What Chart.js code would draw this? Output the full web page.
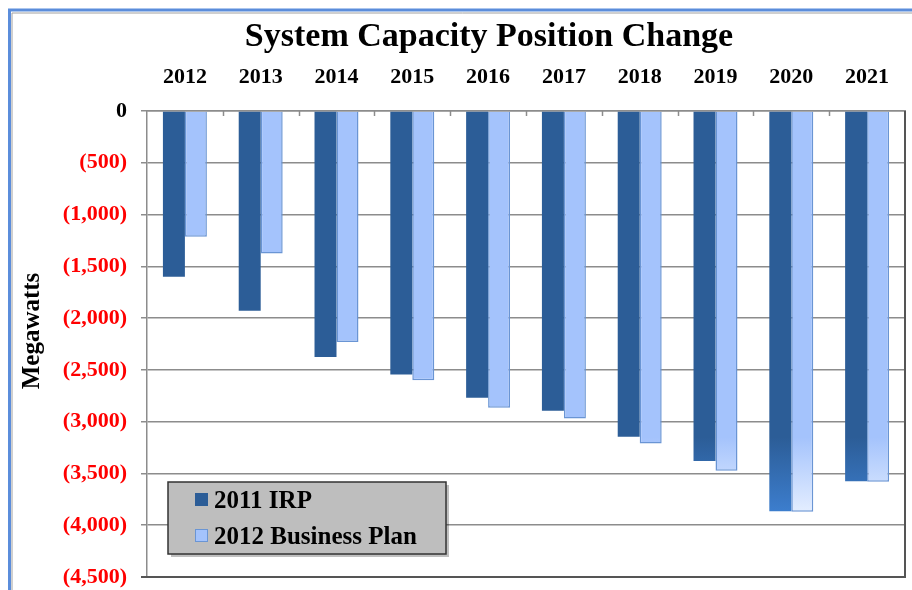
<!DOCTYPE html>
<html>
<head>
<meta charset="utf-8">
<script src="https://cdn.jsdelivr.net/npm/chart.js@4"></script>
<style>
  html, body { margin: 0; padding: 0; background: #fff; }
  #wrap { width: 912px; height: 590px; position: relative; }
</style>
</head>
<body>
<div id="wrap"><canvas id="c"></canvas></div>
<script>
// ---- data ----
const categories = ['2012', '2013', '2014', '2015', '2016', '2017', '2018', '2019', '2020', '2021'];
const irp2011 = [-1600, -1930, -2375, -2545, -2770, -2895, -3145, -3380, -3865, -3575];
const businessPlan2012 = [-1215, -1375, -2230, -2600, -2865, -2970, -3210, -3475, -3870, -3580];
const seriesNames = ['2011 IRP', '2012 Business Plan'];
const yMin = -4500, yMax = 0, yStep = 500;
const chartTitle = 'System Capacity Position Change';
const yAxisTitle = 'Megawatts';

const SERIF = '"Liberation Serif", "Times New Roman", serif';

function fmtTick(v) {
  if (v === 0) return '0';
  return '(' + Math.abs(v).toLocaleString('en-US') + ')';
}

function gradFill(top, bottom) {
  return function (ctx) {
    const chart = ctx.chart;
    const y = chart.scales && chart.scales.y;
    if (!chart.chartArea || !y) return top;
    const y0 = y.getPixelForValue(-3150);
    const y1 = y.getPixelForValue(-3900);
    const g = chart.ctx.createLinearGradient(0, y0, 0, y1);
    g.addColorStop(0, top);
    g.addColorStop(1, bottom);
    return g;
  };
}

const decor = {
  id: 'decor',
  beforeDraw(chart) {
    const c = chart.ctx;
    c.save();
    c.fillStyle = '#ffffff';
    c.fillRect(0, 0, chart.width, chart.height);
    // outer frame
    c.strokeStyle = '#5b8ddb';
    c.lineWidth = 3;
    c.beginPath();
    c.moveTo(9.5, chart.height + 5); c.lineTo(9.5, 10); c.lineTo(chart.width + 5, 10);
    c.stroke();
    c.strokeStyle = '#a0a0a0';
    c.lineWidth = 1;
    c.beginPath();
    c.moveTo(12, chart.height + 5); c.lineTo(12, 13); c.lineTo(chart.width + 5, 13);
    c.stroke();
    c.restore();
  },
  afterDraw(chart) {
    const c = chart.ctx;
    const a = chart.chartArea;
    const x = chart.scales.x;
    c.save();
    // plot right / bottom border
    c.strokeStyle = '#555';
    c.lineWidth = 2;
    c.beginPath();
    c.moveTo(a.right, a.top); c.lineTo(a.right, a.bottom); c.lineTo(a.left - 6, a.bottom);
    c.stroke();
    // small inner ticks at category boundaries along top axis
    c.strokeStyle = '#8c8c8c';
    c.lineWidth = 1.5;
    const n = categories.length;
    const w = (a.right - a.left) / n;
    for (let i = 1; i < n; i++) {
      const px = Math.round(x.getPixelForValue(i) - w / 2) + 0.5;
      c.beginPath(); c.moveTo(px, a.top); c.lineTo(px, a.top + 5); c.stroke();
    }
    // title
    c.fillStyle = '#000';
    c.font = 'bold 34px ' + SERIF;
    c.textAlign = 'center';
    c.textBaseline = 'middle';
    c.fillText(chartTitle, 489, 37);
    // y-axis title
    c.save();
    c.translate(33, 331);
    c.rotate(-Math.PI / 2);
    c.font = 'bold 25px ' + SERIF;
    c.fillText(yAxisTitle, 0, 0);
    c.restore();
    // legend box
    const lx = a.left + 21, ly = a.bottom - 95, lw = 278, lh = 72;
    c.fillStyle = 'rgba(0,0,0,0.25)';
    c.fillRect(lx + 3, ly + 3, lw, lh);
    c.fillStyle = '#bebebe';
    c.fillRect(lx, ly, lw, lh);
    c.strokeStyle = '#333';
    c.lineWidth = 1.5;
    c.strokeRect(lx, ly, lw, lh);
    const ds = chart.data.datasets;
    c.font = 'bold 25px ' + SERIF;
    c.textAlign = 'left';
    c.textBaseline = 'alphabetic';
    ds.forEach((d, i) => {
      const my = ly + 11 + i * 36;
      c.fillStyle = d.legendFill;
      c.fillRect(lx + 27, my, 13, 13);
      if (i === 1) {
        c.strokeStyle = '#6a95d4';
        c.lineWidth = 1;
        c.strokeRect(lx + 27.5, my + 0.5, 12, 12);
      }
      c.fillStyle = '#000';
      c.fillText(d.label, lx + 46, my + 15);
    });
    c.restore();
  }
};

new Chart(document.getElementById('c'), {
  type: 'bar',
  data: {
    labels: categories,
    datasets: [
      {
        label: seriesNames[0],
        data: irp2011,
        legendFill: '#2c5d97',
        backgroundColor: gradFill('#2c5d97', '#3d7fd0'),
        borderWidth: 0,
        categoryPercentage: 0.58,
        barPercentage: 1.0
      },
      {
        label: seriesNames[1],
        data: businessPlan2012,
        legendFill: '#a4c3fc',
        backgroundColor: gradFill('#a4c3fc', '#e6efff'),
        borderColor: '#6a95d4',
        borderWidth: 1.5,
        categoryPercentage: 0.58,
        barPercentage: 1.0
      }
    ]
  },
  options: {
    responsive: true,
    maintainAspectRatio: false,
    animation: false,
    devicePixelRatio: 1,
    layout: { padding: { top: 0, left: 0, right: 7, bottom: 13 } },
    plugins: {
      legend: { display: false },
      title: { display: false },
      tooltip: { enabled: false }
    },
    scales: {
      x: {
        position: 'top',
        offset: true,
        grid: { display: false, drawTicks: false },
        border: { display: true, color: '#8c8c8c', width: 1.5 },
        ticks: {
          color: '#000',
          font: { family: SERIF, size: 22, weight: 'bold' },
          padding: 20,
          maxRotation: 0
        },
        afterFit(scale) { scale.height = 111; }
      },
      y: {
        min: yMin,
        max: yMax,
        grid: { color: '#8c8c8c', lineWidth: 1.5, tickLength: 6, drawTicks: true },
        border: { display: true, color: '#8c8c8c', width: 1.5 },
        ticks: {
          stepSize: yStep,
          padding: 14,
          color: (ctx) => (ctx.tick && ctx.tick.value === 0 ? '#000000' : '#ff0000'),
          font: { family: SERIF, size: 22, weight: 'bold' },
          callback: (v) => fmtTick(v)
        },
        title: { display: false },
        afterFit(scale) {
          scale.width = 147;
          scale.paddingTop = 0;
          scale.paddingBottom = 0;
        }
      }
    }
  },
  plugins: [decor]
});
</script>
</body>
</html>
